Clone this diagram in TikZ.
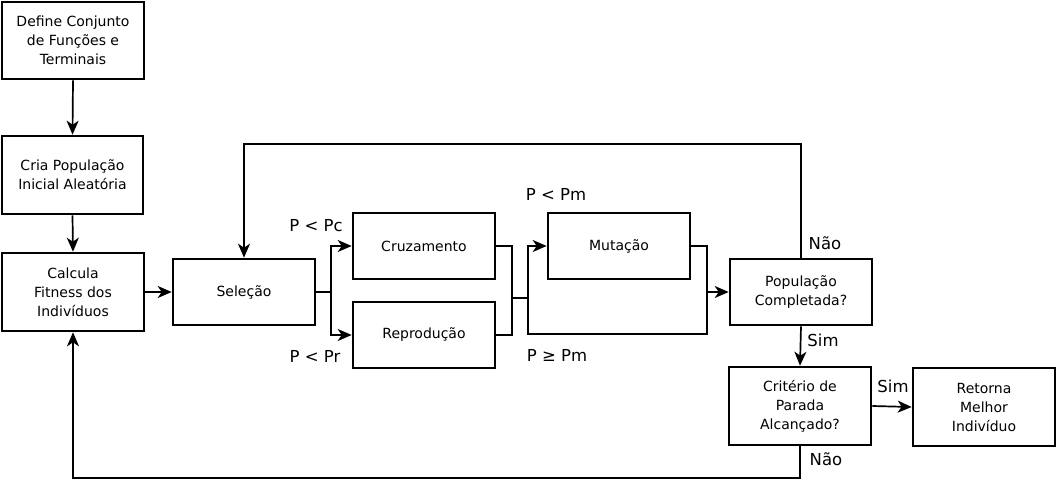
\documentclass[tikz,border=0pt]{standalone}
\usepackage{fontspec}
\setmainfont{DejaVu Sans}
\usetikzlibrary{arrows.meta}
\begin{document}
\begin{tikzpicture}[x=1pt,y=-1pt,
  box/.style={draw,line width=2.6pt,minimum width=142pt,minimum height=66pt,align=center,inner sep=0pt,font=\fontsize{14}{19}\selectfont},
  tall/.style={box,minimum height=78pt},
  con/.style={line width=1.7pt},
  arr/.style={con,-{Stealth[length=14pt,width=12pt,inset=4pt]}},
  lab/.style={font=\fontsize{16.5}{19}\selectfont,inner sep=0pt}]
\useasboundingbox (0,0) rectangle (1057,479);
\node[tall,minimum height=77pt] (def) at (73,40.5) {Define Conjunto\\de Funções e\\Terminais};
\node[tall,minimum width=141pt] (cria) at (72.5,175) {Cria População\\Inicial Aleatória};
\node[tall] (calc) at (73,292) {Calcula\\Fitness dos\\Indivíduos};
\node[box] (sel) at (244,292) {Seleção};
\node[box] (cruz) at (424,246) {Cruzamento};
\node[box] (repr) at (424,335) {Reprodução};
\node[box] (mut) at (619,246) {Mutação};
\node[box] (pop) at (801,292) {População\\Completada?};
\node[tall] (crit) at (800,406) {Critério de\\Parada\\Alcançado?};
\node[tall] (ret) at (984,407) {Retorna\\Melhor\\Indivíduo};
\coordinate (s1) at (331,292);
\coordinate (j1) at (512,298);
\coordinate (j2) at (528,298);
\coordinate (m1) at (707,292);
\draw[arr] (def.south) -- (cria.north);
\draw[arr] (cria.south) -- (calc.north);
\draw[arr] (calc.east) -- (sel.west);
\draw[con] (sel.east) -- (s1);
\draw[arr] (s1) |- (cruz.west);
\draw[arr] (s1) |- (repr.west);
\draw[con] (cruz.east) -| (j1);
\draw[con] (repr.east) -| (j1);
\draw[con] (j1) -- (j2);
\draw[arr] (j2) |- (mut.west);
\draw[con] (j2) |- (700,334) -| (m1);
\draw[con] (mut.east) -| (m1);
\draw[arr] (m1) -- (pop.west);
\draw[arr] (pop.north) |- (244,144) -- (sel.north);
\draw[arr] (pop.south) -- (crit.north);
\draw[arr] (crit.east) -- (ret.west);
\draw[arr] (crit.south) |- (73,478) -- (calc.south);
\node[lab] at (316,226) {P < Pc};
\node[lab] at (315,356) {P < Pr};
\node[lab] at (556,194) {P < Pm};
\node[lab] at (557,355) {P ≥ Pm};
\node[lab] at (825,243) {Não};
\node[lab] at (823,340) {Sim};
\node[lab] at (893,386) {Sim};
\node[lab] at (826,459) {Não};
\end{tikzpicture}
\end{document}
